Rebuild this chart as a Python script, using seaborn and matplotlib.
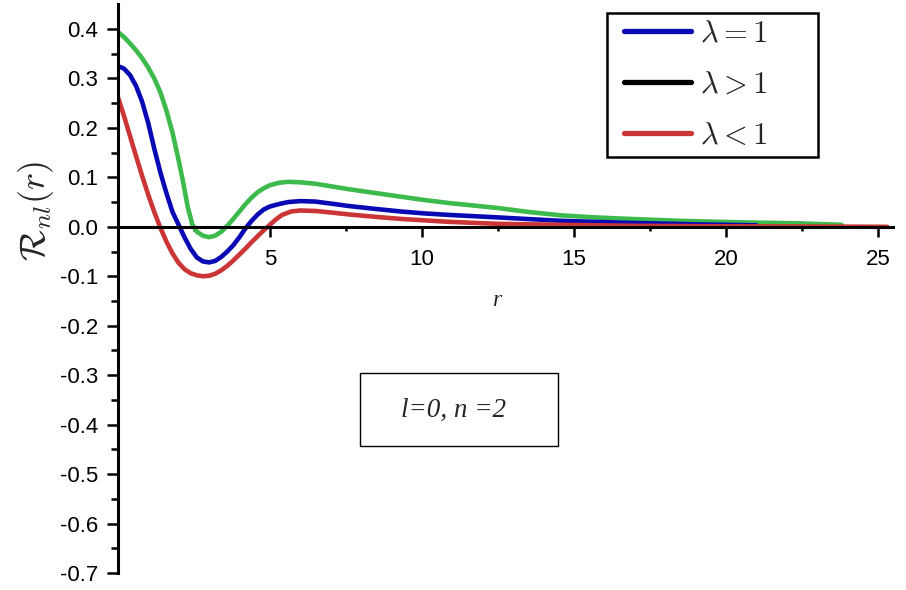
#radial wave function plot, l=0 n=2, three lambda cases

import pandas as pd
from matplotlib import pyplot as plt
import seaborn as sns
from matplotlib.lines import Line2D
from matplotlib.patches import Rectangle
import matplotlib.ticker as mtick

#values
r_green = [0.0, 0.2, 0.4, 0.6, 0.8, 1.0, 1.2, 1.4, 1.6, 1.8, 2.0, 2.15, 2.3, 2.45, 2.6, 2.8, 3.0, 3.2,
           3.4, 3.6, 3.8, 4.0, 4.2, 4.4, 4.6, 4.8, 5.0, 5.3, 5.6, 6.0, 6.5, 7.0, 7.6, 8.5, 9.3, 10.1,
           10.9, 11.7, 12.5, 13.5, 14.6, 15.7, 16.8, 18.5, 20.5, 22.4, 23.8]
R_green = [0.394, 0.384, 0.371, 0.357, 0.341, 0.322, 0.3, 0.272, 0.235, 0.19, 0.135, 0.09, 0.04, 0.005,
           -0.01, -0.018, -0.021, -0.018, -0.01, 0.002, 0.016, 0.031, 0.046, 0.059, 0.07, 0.078, 0.084,
           0.089, 0.091, 0.09, 0.087, 0.082, 0.076, 0.068, 0.061, 0.054, 0.048, 0.043, 0.038, 0.03, 0.023,
           0.019, 0.016, 0.012, 0.009, 0.007, 0.004]

r_blue = [0.0, 0.2, 0.4, 0.6, 0.8, 1.0, 1.2, 1.4, 1.6, 1.8, 2.0, 2.2, 2.4, 2.6, 2.8, 3.0, 3.2, 3.4,
          3.6, 3.8, 4.0, 4.2, 4.4, 4.6, 4.8, 5.0, 5.3, 5.6, 6.0, 6.5, 7.0, 7.6, 8.5, 9.3, 10.1, 10.9,
          12.5, 14.6, 16.8, 19.0, 21.0]
R_blue = [0.325, 0.32, 0.307, 0.285, 0.253, 0.21, 0.158, 0.11, 0.068, 0.03, 0.004, -0.022, -0.045, -0.062,
          -0.07, -0.072, -0.069, -0.061, -0.05, -0.037, -0.021, -0.003, 0.012, 0.025, 0.035, 0.041, 0.046,
          0.05, 0.052, 0.051, 0.047, 0.042, 0.036, 0.031, 0.027, 0.024, 0.019, 0.012, 0.008, 0.005, 0.003]

r_red = [0.0, 0.2, 0.4, 0.6, 0.8, 1.0, 1.2, 1.4, 1.6, 1.8, 2.0, 2.2, 2.4, 2.6, 2.8, 3.0, 3.2, 3.4,
         3.6, 3.8, 4.0, 4.2, 4.4, 4.6, 4.8, 5.0, 5.2, 5.4, 5.7, 6.0, 6.5, 7.0, 7.6, 8.5, 9.3, 10.1,
         10.9, 12.5, 14.6, 17.0, 20.0, 23.0, 25.3]
R_red = [0.263, 0.225, 0.184, 0.143, 0.103, 0.065, 0.03, -0.002, -0.03, -0.054, -0.073, -0.086, -0.094,
         -0.098, -0.1, -0.099, -0.095, -0.088, -0.079, -0.068, -0.056, -0.044, -0.031, -0.019, -0.007,
         0.004, 0.015, 0.024, 0.031, 0.033, 0.032, 0.029, 0.025, 0.02, 0.016, 0.013, 0.01, 0.006, 0.004,
         0.002, 0.001, 0.0005, 0.0]

legend_labels = [r'$\lambda = 1$', r'$\lambda > 1$', r'$\lambda < 1$']
legend_colors = ['#0a0ab4', '#000000', '#cc3535']

green = '#3dba4c'
blue = '#0a0ab4'
red = '#cc3535'

sns.set_style('white')
plt.rcParams['font.family'] = ['Liberation Sans', 'DejaVu Sans']
plt.rcParams['mathtext.fontset'] = 'cm'

fig = plt.figure(figsize=(9.06, 5.90), dpi=100)
ax = fig.add_axes([0.130, 0.0288, 0.856, 0.964])

for r, R, c in [(r_green, R_green, green), (r_blue, R_blue, blue), (r_red, R_red, red)]:
    df = pd.DataFrame({'r': r, 'R': R})
    sns.lineplot(data=df, x='r', y='R', color=c, linewidth=3.3, ax=ax, sort=False)

ax.set_xlim(0, 25.5)
ax.set_ylim(-0.7, 0.45)

#axes look: left spine plus x axis through zero
ax.spines['top'].set_visible(False)
ax.spines['right'].set_visible(False)
ax.spines['bottom'].set_position(('data', 0))
ax.spines['left'].set_bounds(-0.7, 0.45)
for s in ['left', 'bottom']:
    ax.spines[s].set_linewidth(2.2)
    ax.spines[s].set_color('black')

ax.xaxis.set_major_locator(mtick.FixedLocator([5, 10, 15, 20, 25]))
ax.xaxis.set_minor_locator(mtick.FixedLocator([2.5, 7.5, 12.5, 17.5, 22.5]))
ax.set_yticks([round(-0.7 + 0.1 * i, 1) for i in range(12)])
ax.yaxis.set_minor_locator(mtick.FixedLocator([round(-0.65 + 0.1 * i, 2) for i in range(11)]))
ax.yaxis.set_major_formatter(mtick.FuncFormatter(lambda v, p: f'{v:.1f}'))

ax.tick_params(which='both', bottom=True, left=True)
ax.tick_params(axis='both', which='major', direction='out', length=8, width=1.8,
               labelsize=16, color='black', labelcolor='black')
ax.tick_params(axis='both', which='minor', direction='out', length=5, width=1.8, color='black')
ax.tick_params(axis='x', which='major', pad=9, length=7)
ax.tick_params(axis='x', which='minor', length=3)
ax.tick_params(axis='y', which='major', pad=6)
ax.set(xlabel='', ylabel='')

fig.text(0.040, 0.643, r'$\mathcal{R}_{nl}(r)$', rotation=90, fontsize=26, ha='center', va='center')
fig.text(497 / 906, 1 - 300 / 590, 'r', fontsize=17, style='italic', family='Liberation Serif',
         ha='center', va='center')

#legend with its own handles, as in the picture; frame drawn separately
handles = [Line2D([], [], color=c, linewidth=3.8) for c in legend_colors]
leg = ax.legend(handles, legend_labels, loc='upper left', bbox_to_anchor=(624 / 906, 1 - 19 / 590),
                bbox_transform=fig.transFigure, fontsize=22, frameon=False,
                handlelength=2.2, labelspacing=0.68, borderpad=0, handletextpad=0.3, borderaxespad=0)
fig.patches.append(Rectangle((607 / 906, 1 - 157 / 590), 211 / 906, 144 / 590, transform=fig.transFigure,
                             fill=False, edgecolor='black', linewidth=1.8))

#parameter box
fig.patches.append(Rectangle((360 / 906, 1 - 446 / 590), 198 / 906, 73 / 590, transform=fig.transFigure,
                             fill=False, edgecolor='black', linewidth=1.0))
fig.text(454 / 906, 1 - 410 / 590, 'l=0, n =2', fontsize=19.5, style='italic', family='Liberation Serif',
         ha='center', va='center')

fig.savefig('out.png', dpi=100)
